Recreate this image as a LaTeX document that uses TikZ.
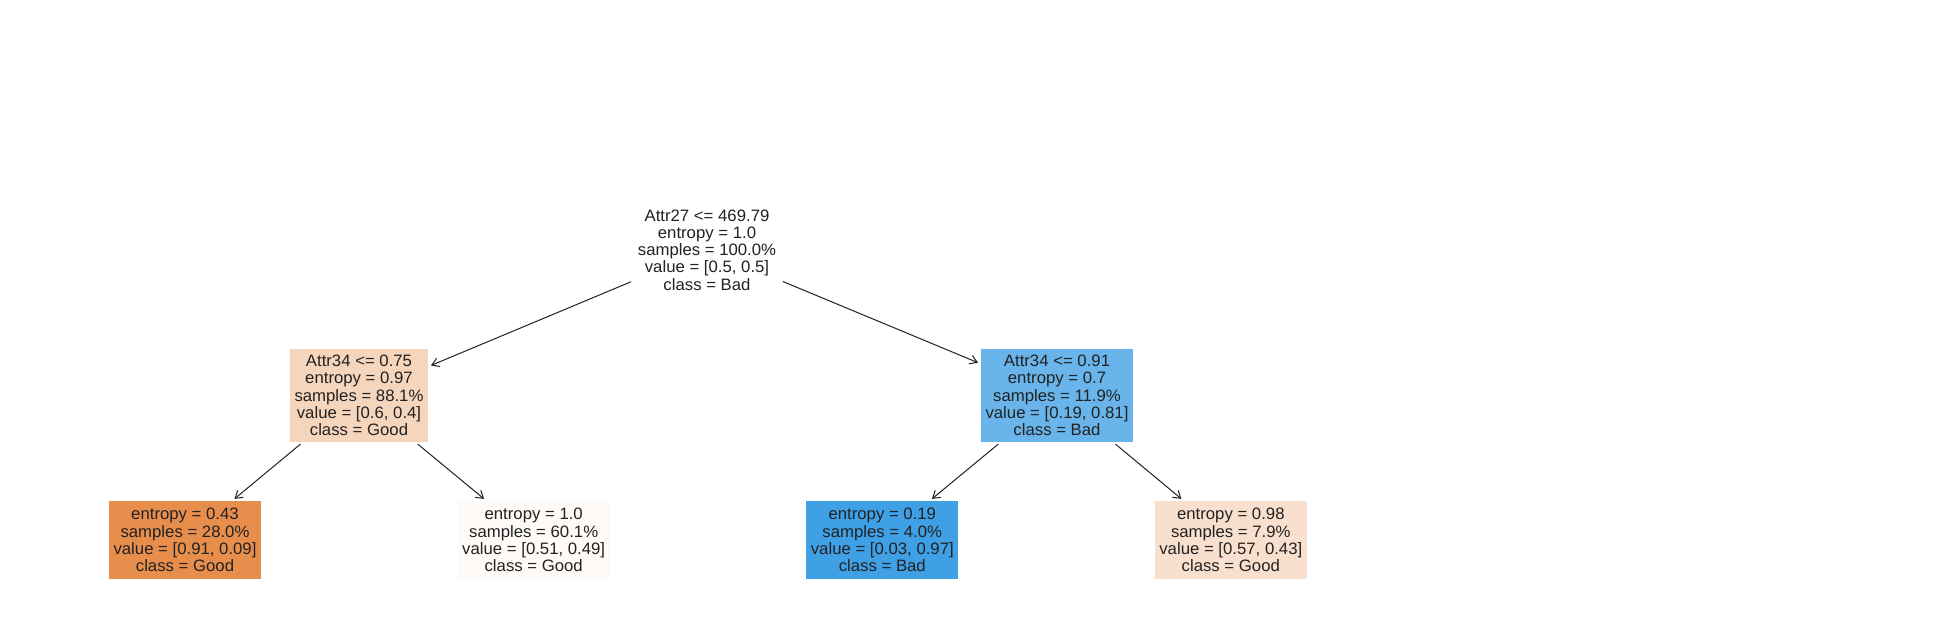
\documentclass[tikz,border=0pt]{standalone}
\usepackage{fontspec}
\setmainfont{Liberation Sans}[FakeStretch=1.015]
\usetikzlibrary{arrows.meta}
\definecolor{txt}{RGB}{34,34,34}
\definecolor{cA}{RGB}{255,255,255}
\definecolor{cB}{RGB}{246,213,189}
\definecolor{cC}{RGB}{104,180,235}
\definecolor{cD}{RGB}{232,142,77}
\definecolor{cE}{RGB}{254,250,247}
\definecolor{cF}{RGB}{63,160,230}
\definecolor{cG}{RGB}{249,224,206}
\tikzset{
  treenode/.style={rectangle, inner sep=0pt, align=center, text=txt,
    font=\fontsize{16.5}{17.2}\selectfont},
  inner/.style={treenode, minimum height=93pt},
  leaf/.style={treenode, minimum height=78pt, minimum width=152pt},
  edge/.style={draw=txt, line width=1pt, -{Straight Barb[length=7pt,width=9pt]}, shorten <=3pt, shorten >=3pt}
}
\begin{document}
\begin{tikzpicture}[x=1pt,y=-1pt]
\path[use as bounding box, fill=white] (0,0) rectangle (1957,623);
\node[inner, fill=cA, minimum width=146pt] (root) at (707,250) {Attr27 <= 469.79\\entropy = 1.0\\samples = 100.0\%\\value = [0.5, 0.5]\\class = Bad};
\node[inner, fill=cB, minimum width=138pt] (lc) at (359,395.5) {Attr34 <= 0.75\\entropy = 0.97\\samples = 88.1\%\\value = [0.6, 0.4]\\class = Good};
\node[inner, fill=cC, minimum width=152pt] (rc) at (1057,395.5) {Attr34 <= 0.91\\entropy = 0.7\\samples = 11.9\%\\value = [0.19, 0.81]\\class = Bad};
\node[leaf, fill=cD] (l1) at (185,540) {entropy = 0.43\\samples = 28.0\%\\value = [0.91, 0.09]\\class = Good};
\node[leaf, fill=cE] (l2) at (533.7,540) {entropy = 1.0\\samples = 60.1\%\\value = [0.51, 0.49]\\class = Good};
\node[leaf, fill=cF] (l3) at (882.3,540) {entropy = 0.19\\samples = 4.0\%\\value = [0.03, 0.97]\\class = Bad};
\node[leaf, fill=cG] (l4) at (1230.8,540) {entropy = 0.98\\samples = 7.9\%\\value = [0.57, 0.43]\\class = Good};
\draw[edge] (root) -- (lc);
\draw[edge] (root) -- (rc);
\draw[edge] (lc) -- (l1);
\draw[edge] (lc) -- (l2);
\draw[edge] (rc) -- (l3);
\draw[edge] (rc) -- (l4);
\end{tikzpicture}
\end{document}
